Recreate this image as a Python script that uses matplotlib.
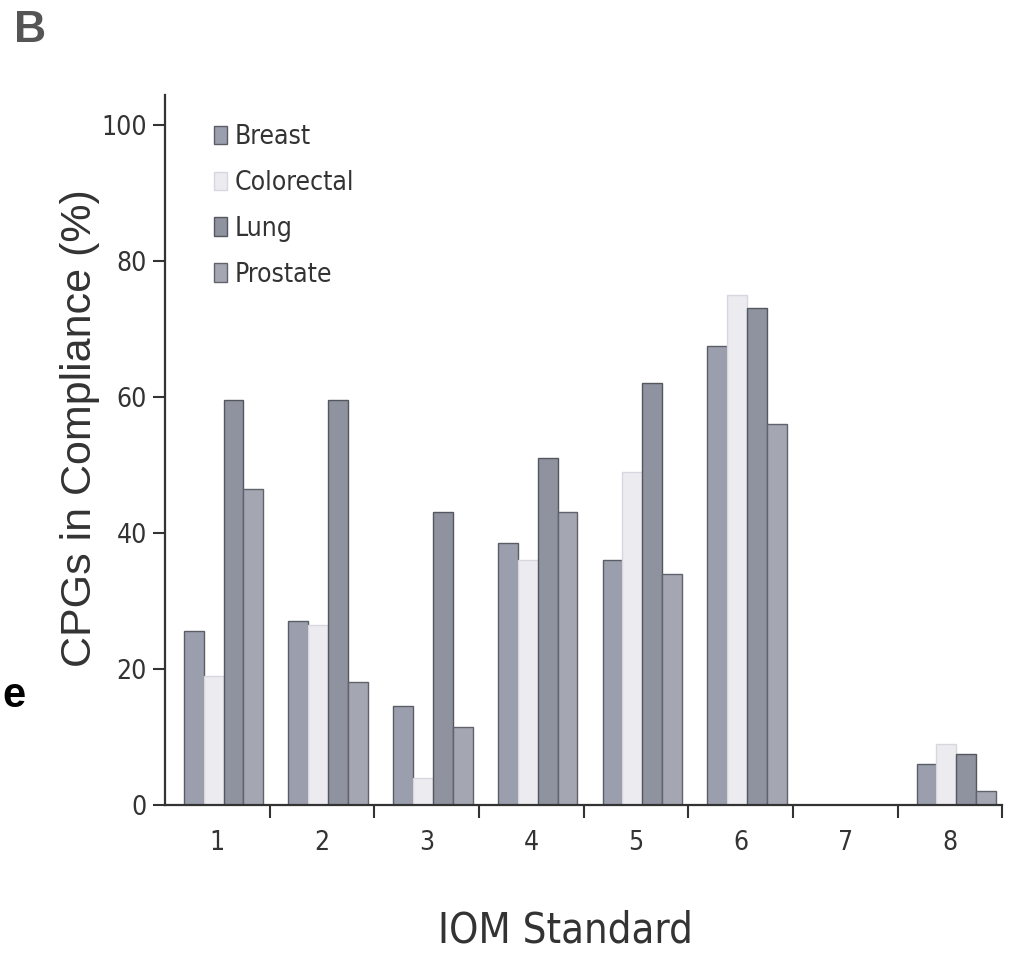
import numpy as np
import matplotlib.pyplot as plt

standards = ['1', '2', '3', '4', '5', '6', '7', '8']
cancers = ['Breast', 'Colorectal', 'Lung', 'Prostate']

breast = [25.5, 27, 14.5, 38.5, 36, 67.5, 0, 6]
colorectal = [19, 26.5, 4, 36, 49, 75, 0, 9]
lung = [59.5, 59.5, 43, 51, 62, 73, 0, 7.5]
prostate = [46.5, 18, 11.5, 43, 34, 56, 0, 2]

series = [breast, colorectal, lung, prostate]
colors = ['#9b9eac', '#ecebf0', '#8f929f', '#a4a6b2']
edges = ['#5a5c66', '#d8d6de', '#55575f', '#60626c']

fig = plt.figure(figsize=(10.09, 9.58), dpi=100)
ax = fig.add_axes([0.1635, 0.16, 0.83, 0.741])

x = np.arange(1, len(standards) + 1)
w = 0.19
for i, (vals, name) in enumerate(zip(series, cancers)):
    ax.bar(x + (i - 1.5) * w + 0.06, vals, width=w, color=colors[i],
           edgecolor=edges[i], linewidth=1.0, label=name)

ax.set_xlim(0.5, 8.5)
ax.set_ylim(0, 104.4)

cond = dict(family='DejaVu Sans', stretch='condensed')

ax.set_yticks([0, 20, 40, 60, 80, 100])
ax.set_yticklabels(['0', '20', '40', '60', '80', '100'], fontsize=19, color='#333333', **cond)
ax.set_xticks(x + 0.5)
ax.set_xticklabels([])
ax.set_xticks(x, minor=True)
ax.set_xticklabels(standards, minor=True, fontsize=19, color='#333333', **cond)
ax.tick_params(axis='x', which='minor', length=0, pad=18)
ax.tick_params(axis='x', which='major', length=9, width=1.5, direction='out', color='#333333')
ax.tick_params(axis='y', length=9, width=1.5, direction='out', color='#333333', pad=4)

for s in ['top', 'right']:
    ax.spines[s].set_visible(False)
for s in ['left', 'bottom']:
    ax.spines[s].set_linewidth(1.6)
    ax.spines[s].set_color('#333333')

ax.set_ylabel('CPGs in Compliance (%)', fontsize=31, color='#333333',
              family=['Liberation Sans', 'DejaVu Sans'])
ax.yaxis.set_label_coords(-0.078, 0.53)
ax.set_xlabel('IOM Standard', fontsize=30, color='#333333', **cond)
ax.xaxis.set_label_coords(0.478, -0.148)

leg = ax.legend(loc='upper left', bbox_to_anchor=(0.03, 0.992), frameon=False,
                prop={'family': 'DejaVu Sans', 'stretch': 'condensed', 'size': 19},
                handlelength=0.5, handleheight=0.7,
                handletextpad=0.3, labelspacing=0.75, labelcolor='#333333')

fig.text(0.014, 0.99, 'B', fontsize=32, fontweight='bold', color='#555555', va='top', ha='left',
         family=['Liberation Sans', 'DejaVu Sans'])
fig.text(0.002, 0.274, 'e', fontsize=30, fontweight='bold', color='black', va='center', ha='left',
         family=['Liberation Sans', 'DejaVu Sans'])

fig.savefig('out.png', dpi=100, facecolor='white')
